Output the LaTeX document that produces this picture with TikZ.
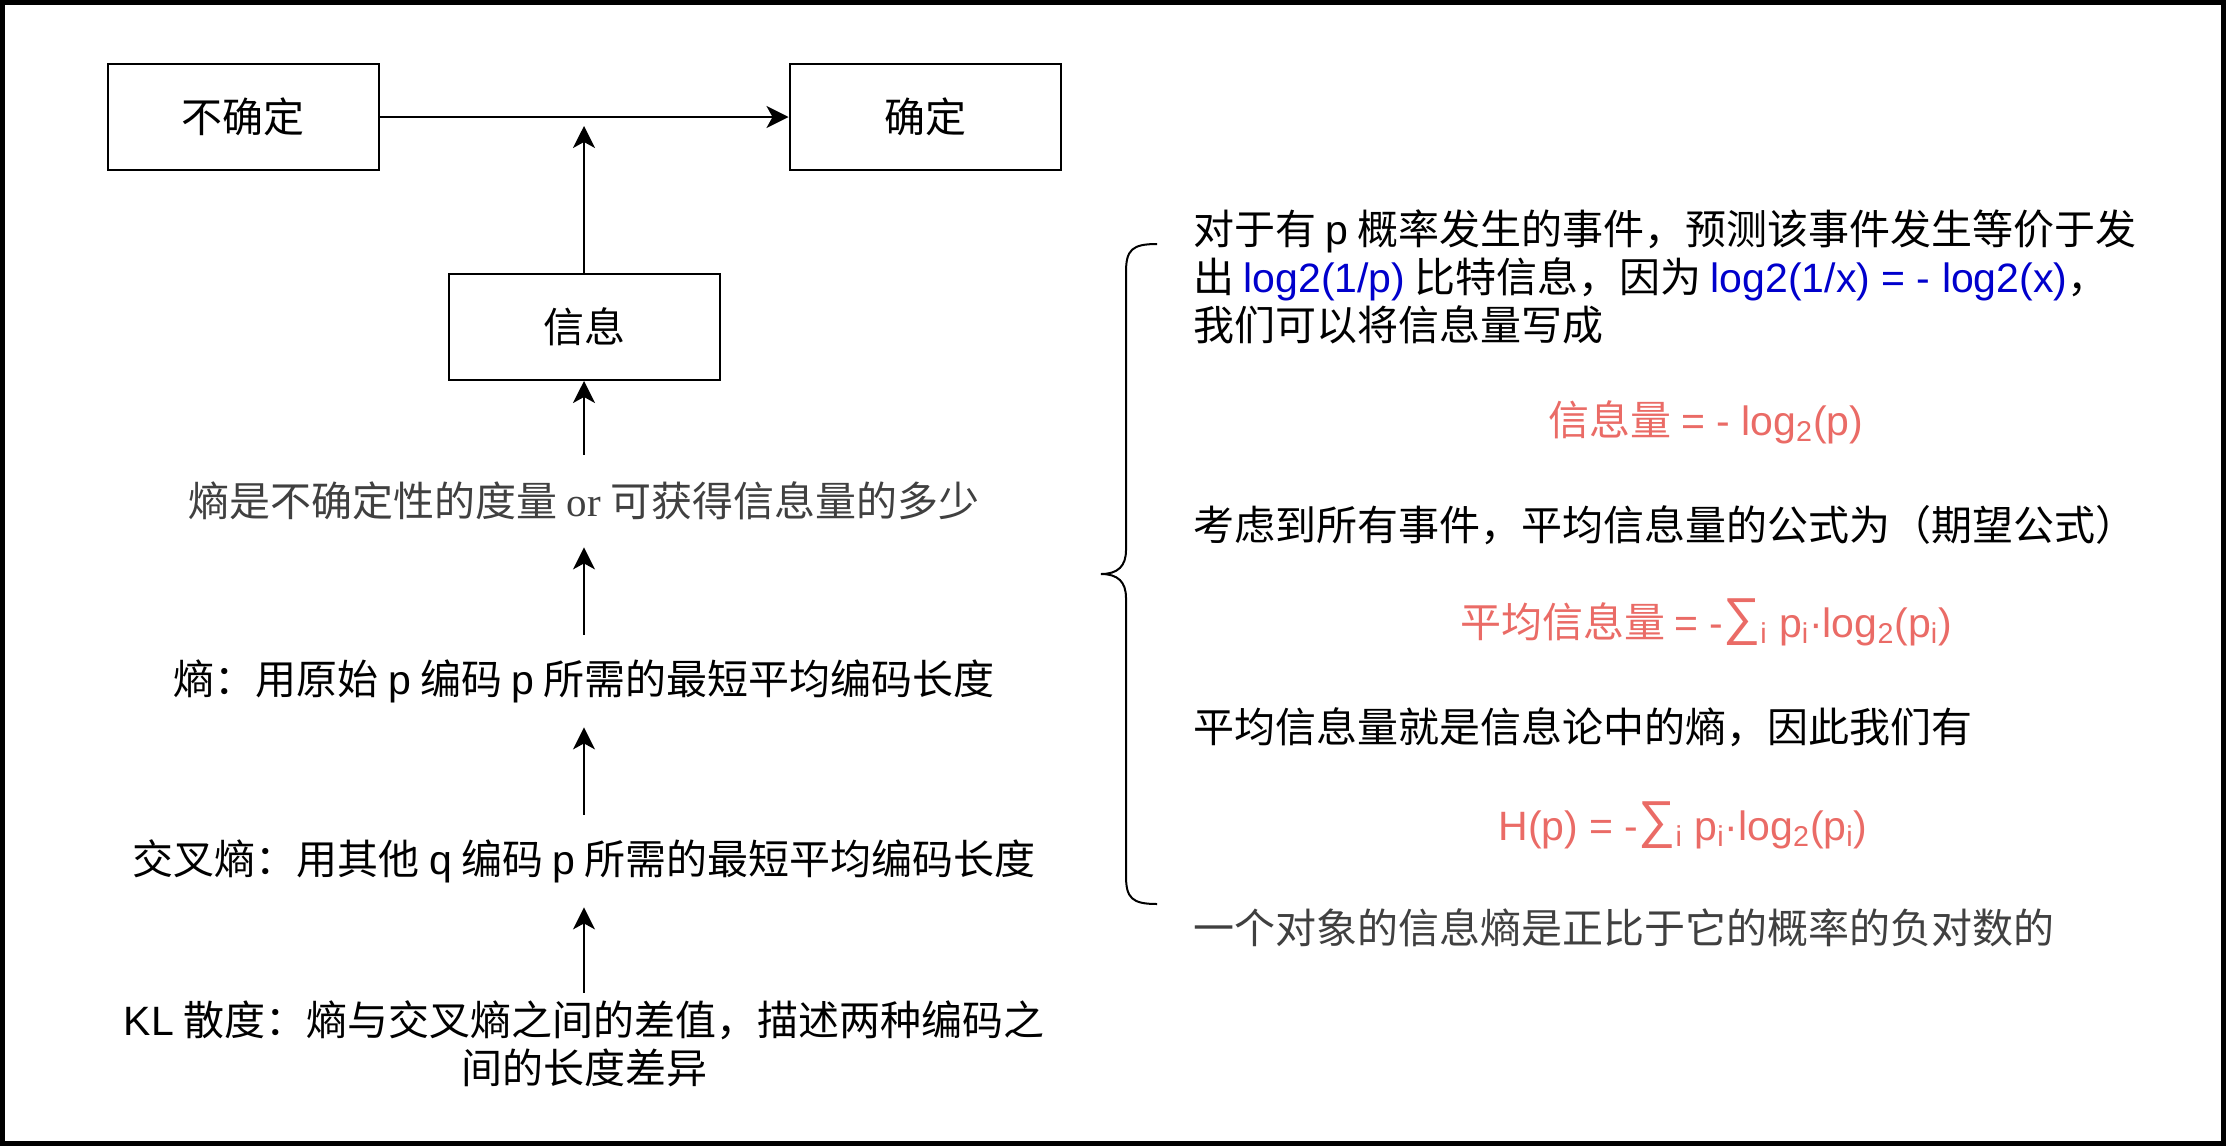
\documentclass[tikz,border=0pt]{standalone}
\usepackage{fontspec}
\setmainfont{Noto Sans CJK SC}
\newfontfamily\latinfont{Liberation Sans}
\newfontfamily\orfont{Liberation Serif}
\definecolor{formelrot}{HTML}{EA6B66}
\definecolor{logblau}{HTML}{0000CC}
\definecolor{textgrau}{HTML}{404040}
\newcommand{\ltn}[1]{{\latinfont #1}}
\newcommand{\summe}{\raisebox{1.5pt}{\fontsize{26}{24}\selectfont ∑}}
\usetikzlibrary{arrows.meta}

\begin{document}
\begin{tikzpicture}[x=0.5pt, y=-0.5pt,
	kasten/.style={draw, line width=1pt, minimum width=135.5pt, minimum height=53pt, inner sep=0pt},
	zeile/.style={minimum height=46pt, inner sep=0pt, align=center},
	absatz/.style={anchor=west, inner sep=0pt, align=left},
	formel/.style={text=formelrot, inner sep=0pt},
	>={Stealth[length=11pt, width=11pt, inset=3pt]},   % Pfeilspitzen
	font=\fontsize{20.5}{24}\selectfont]
	% Bildbereich und Rahmen
	\useasboundingbox (0,0) rectangle (2226,1146);
	\draw[line width=2.5pt] (2.5,2.5) rectangle (2223.5,1143.5);
	% linke Seite: Kette
	\node[kasten] (unsicher) at (243,117) {不确定};
	\node[kasten] (sicher) at (925,117) {确定};
	\node[kasten] (info) at (584,327) {信息};
	\coordinate (pfeilziel) at (584,126);
	\node[zeile, text=textgrau] (entropie) at (584,501) {熵是不确定性的度量 {\orfont or} 可获得信息量的多少};
	\node[zeile] (kodierung) at (584,681) {熵：用原始 \ltn{p} 编码 \ltn{p} 所需的最短平均编码长度};
	\node[zeile] (kreuz) at (584,861) {交叉熵：用其他 \ltn{q} 编码 \ltn{p} 所需的最短平均编码长度};
	\node[zeile, minimum height=51pt] (kl) at (584,1044) {\ltn{KL} 散度：熵与交叉熵之间的差值，描述两种编码之\\间的长度差异};
	% Pfeile
	\draw[->, line width=1pt] (unsicher) -- (sicher);
	\draw[->, line width=1pt] (info) -- (pfeilziel);
	\draw[->, line width=1pt] (entropie) -- (info);
	\draw[->, line width=1pt] (kodierung) -- (entropie);
	\draw[->, line width=1pt] (kreuz) -- (kodierung);
	\draw[->, line width=1pt] (kl) -- (kreuz);
	% Klammer
	\draw[line width=1pt] (1157,244) .. controls (1132,244) and (1126,250) .. (1126,272) -- (1126,550)
		.. controls (1126,566) and (1118,574) .. (1101,574) .. controls (1118,574) and (1126,582) .. (1126,598)
		-- (1126,876) .. controls (1126,898) and (1132,904) .. (1157,904);
	% rechte Seite: Erklaerung
	\node[absatz] (absatz1) at (1193,277) {对于有 \ltn{p} 概率发生的事件，预测该事件发生等价于发\\出 \textcolor{logblau}{\ltn{log2(1/p)}} 比特信息，因为 \textcolor{logblau}{\ltn{log2(1/x) = - log2(x)}}，\\我们可以将信息量写成};
	\node[formel] (formel1) at (1706,422) {信息量 \ltn{= - log\textsubscript{2}(p)}};
	\node[absatz] (absatz2) at (1193,525) {考虑到所有事件，平均信息量的公式为（期望公式）};
	\node[formel] (formel2) at (1706,622) {平均信息量 \ltn{= -\summe\textsubscript{i} p\textsubscript{i}·log\textsubscript{2}(p\textsubscript{i})}};
	\node[absatz] (absatz3) at (1193,727) {平均信息量就是信息论中的熵，因此我们有};
	\node[formel] (formel3) at (1683,825) {\ltn{H(p) = -\summe\textsubscript{i} p\textsubscript{i}·log\textsubscript{2}(p\textsubscript{i})}};
	\node[absatz, text=textgrau] (fazit) at (1193,928) {一个对象的信息熵是正比于它的概率的负对数的};
\end{tikzpicture}
\end{document}
